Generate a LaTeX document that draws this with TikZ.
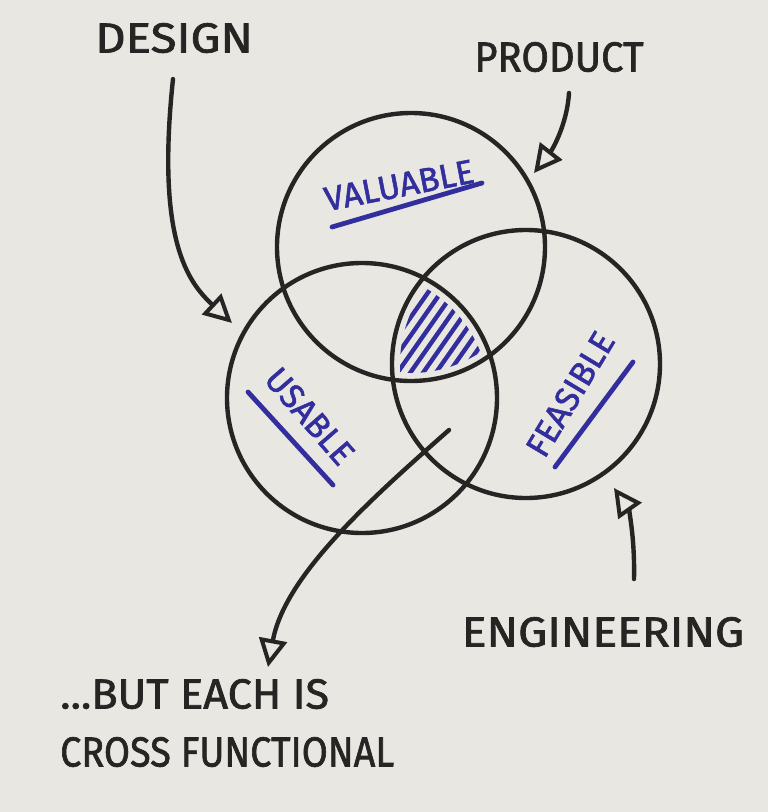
\documentclass[tikz,border=0pt]{standalone}
\usepackage{fontspec}
\setmainfont{Fira Sans}[FakeBold=1.6]
\usetikzlibrary{arrows.meta}
\definecolor{paper}{RGB}{233,231,226}
\definecolor{ink}{RGB}{38,37,35}
\definecolor{blueink}{RGB}{50,46,158}
\begin{document}
\begin{tikzpicture}[x=1pt,y=-1pt,
  ring/.style={draw=ink, line width=4.4pt, circle, minimum size=#1, inner sep=0pt},
  handtext/.style={font=\fontsize{42}{42}\selectfont, text=ink, inner sep=0pt, text height=29pt, text depth=0pt},
  bluetext/.style={font=\fontsize{34}{34}\selectfont, text=blueink, inner sep=0pt, text height=24pt, text depth=0pt},
  underl/.style={draw=blueink, line width=4.8pt, line cap=round},
  hatchline/.style={draw=blueink, line width=4.4pt, line cap=round},
  pointer/.style={draw=ink, line width=4.4pt, line cap=round, -{Triangle[open, length=28pt, width=28pt, line width=4pt]}}
]
\fill[paper] (0,0) rectangle (768,812);
\useasboundingbox (0,0) rectangle (768,812);

% circles
\node[ring=268pt] (valuable) at (411,247) {};
\node[ring=270pt] (usable) at (362,398) {};
\node[ring=268pt] (feasible) at (526,364) {};

% hatching of the common area
\begin{scope}
\clip (411,247) circle[radius=126pt];
\clip (362,398) circle[radius=127pt];
\clip (526,364) circle[radius=126pt];
\foreach \k in {-9,...,9} {
  \draw[hatchline] ({436+\k*10.5*0.819-90*0.574},{336+\k*10.5*0.574+90*0.819})
    -- ({436+\k*10.5*0.819+90*0.574},{336+\k*10.5*0.574-90*0.819});
}
\end{scope}

% black labels
\node[handtext, xscale=1.13] (design) at (174,38) {DESIGN};
\node[handtext, xscale=0.95] (product) at (559,57) {PRODUCT};
\node[handtext, xscale=1.1] (engineering) at (603,632) {ENGINEERING};
\node[handtext, anchor=west, xscale=1.03] (but1) at (60,694) {...BUT EACH IS};
\node[handtext, anchor=west, xscale=0.9] (but2) at (60,752) {CROSS FUNCTIONAL};

% blue labels
\node[bluetext, rotate=11] (lval) at (399,185) {VALUABLE};
\node[bluetext, rotate=-49] (lusa) at (310,416) {USABLE};
\node[bluetext, rotate=59] (lfea) at (570,394) {FEASIBLE};

% underlines
\coordinate (v1) at (332,227); \coordinate (v2) at (482,183);
\coordinate (u1) at (248,392); \coordinate (u2) at (333,485);
\coordinate (f1) at (555,467); \coordinate (f2) at (633,362);
\draw[underl] (v1) -- (v2);
\draw[underl] (u1) -- (u2);
\draw[underl] (f1) -- (f2);

% arrows
\coordinate (dStart) at (173,79);  \coordinate (dTip) at (232,323);
\coordinate (pStart) at (569,93);  \coordinate (pTip) at (534,173);
\coordinate (eStart) at (634,579); \coordinate (eTip) at (614,488);
\coordinate (cStart) at (449,430); \coordinate (cTip) at (268,667);
\draw[pointer] (dStart) .. controls (156,240) and (188,282) .. (dTip);
\draw[pointer] (pStart) .. controls (567,125) and (552,150) .. (pTip);
\draw[pointer] (eStart) .. controls (635,535) and (628,508) .. (eTip);
\draw[pointer] (cStart) .. controls (372,498) and (285,575) .. (cTip);
\end{tikzpicture}
\end{document}
